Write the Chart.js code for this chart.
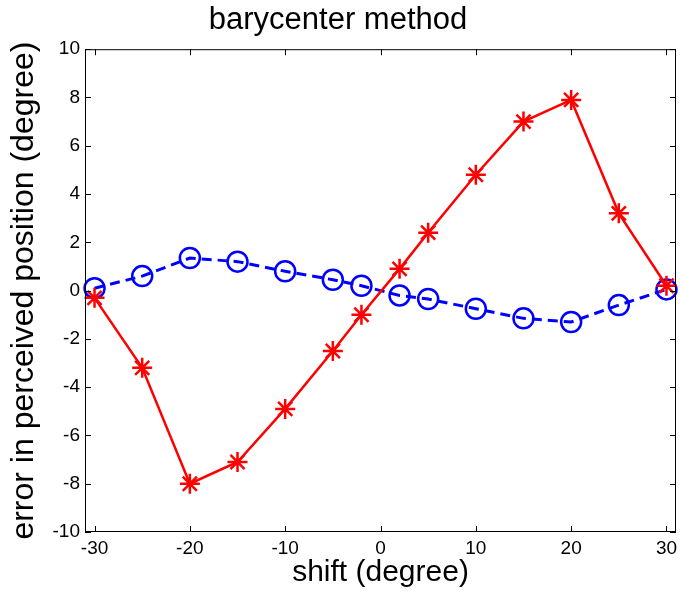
<!DOCTYPE html>
<html>
<head>
<meta charset="utf-8">
<script src="https://cdn.jsdelivr.net/npm/chart.js@4/dist/chart.umd.min.js"></script>
<style>
  html, body { margin: 0; padding: 0; background: #ffffff; }
  #wrap { width: 680px; height: 599px; }
</style>
</head>
<body>
<div id="wrap"><canvas id="c" width="680" height="599"></canvas></div>
<script>
const shifts = [-30, -25, -20, -15, -10, -5, -2, 2, 5, 10, 15, 20, 25, 30];
const redErrors = [-0.3, -3.2, -8.0, -7.1, -4.9, -2.5, -1.0, 0.9, 2.4, 4.8, 7.0, 7.9, 3.2, 0.2];
const blueErrors = [0.1, 0.6, 1.35, 1.2, 0.8, 0.45, 0.2, -0.2, -0.35, -0.75, -1.15, -1.3, -0.6, 0.05];
const xTicks = [-30, -20, -10, 0, 10, 20, 30];
const yTicks = [-10, -8, -6, -4, -2, 0, 2, 4, 6, 8, 10];
const titleText = 'barycenter method';
const xTitle = 'shift (degree)';
const yTitle = 'error in perceived position (degree)';

const FONT = "'Liberation Sans', Arial, sans-serif";

const boxPlugin = {
  id: 'matlabBox',
  afterDatasetsDraw(chart) {
    const {ctx, chartArea: a, scales} = chart;
    ctx.save();
    ctx.strokeStyle = '#000';
    ctx.lineWidth = 1;
    ctx.strokeRect(a.left + 0.5, a.top + 0.5, a.right - a.left - 1, a.bottom - a.top - 1);
    const L = 6;
    ctx.beginPath();
    xTicks.forEach(v => {
      const px = Math.round(scales.x.getPixelForValue(v)) + 0.5;
      ctx.moveTo(px, a.bottom); ctx.lineTo(px, a.bottom - L);
      ctx.moveTo(px, a.top); ctx.lineTo(px, a.top + L);
    });
    yTicks.forEach(v => {
      const py = Math.round(scales.y.getPixelForValue(v)) + 0.5;
      ctx.moveTo(a.left, py); ctx.lineTo(a.left + L, py);
      ctx.moveTo(a.right, py); ctx.lineTo(a.right - L, py);
    });
    ctx.stroke();
    ctx.restore();
  }
};

new Chart(document.getElementById('c'), {
  type: 'line',
  data: {
    datasets: [
      {
        label: 'red',
        data: shifts.map((x, i) => ({x, y: redErrors[i]})),
        borderColor: '#ff0000',
        backgroundColor: '#ff0000',
        borderWidth: 2.5,
        pointStyle: 'star',
        pointRadius: 10,
        pointBorderWidth: 2.5,
        pointBorderColor: '#ff0000',
        tension: 0,
        fill: false,
        clip: false,
        order: 1
      },
      {
        label: 'blue',
        data: shifts.map((x, i) => ({x, y: blueErrors[i]})),
        borderColor: '#0000ff',
        backgroundColor: 'rgba(0,0,0,0)',
        borderWidth: 3,
        borderDash: [10, 6],
        pointStyle: 'circle',
        pointRadius: 10,
        pointBorderWidth: 2.5,
        pointBorderColor: '#0000ff',
        pointBackgroundColor: 'rgba(0,0,0,0)',
        tension: 0,
        fill: false,
        clip: false,
        order: 2
      }
    ]
  },
  options: {
    responsive: false,
    animation: false,
    devicePixelRatio: 1,
    layout: { autoPadding: false, padding: { left: 0, right: 4, top: 0, bottom: 0 } },
    plugins: {
      legend: { display: false },
      tooltip: { enabled: false },
      title: {
        display: true,
        text: titleText,
        color: '#000',
        font: { family: FONT, size: 31, weight: 'normal' },
        padding: { top: 2, bottom: 10 }
      }
    },
    scales: {
      x: {
        type: 'linear',
        min: -31,
        max: 31,
        afterBuildTicks: s => { s.ticks = xTicks.map(v => ({value: v})); },
        afterFit: s => { s.height = 67; s.paddingLeft = 0; s.paddingRight = 0; },
        grid: { display: false, drawTicks: false },
        border: { display: false },
        ticks: { color: '#000', font: { family: FONT, size: 19 }, padding: 5, maxRotation: 0, autoSkip: false },
        title: { display: true, text: xTitle, color: '#000', font: { family: FONT, size: 30 }, padding: { top: 0, bottom: 8 } }
      },
      y: {
        type: 'linear',
        min: -10,
        max: 10,
        afterBuildTicks: s => { s.ticks = yTicks.map(v => ({value: v})); },
        afterFit: s => { s.width = 85; s.paddingTop = 0; s.paddingBottom = 0; },
        grid: { display: false, drawTicks: false },
        border: { display: false },
        ticks: { color: '#000', font: { family: FONT, size: 19 }, padding: 5, autoSkip: false },
        title: { display: true, text: yTitle, color: '#000', font: { family: FONT, size: 32 }, padding: { top: 5, bottom: 0 } }
      }
    }
  },
  plugins: [boxPlugin]
});
</script>
</body>
</html>
